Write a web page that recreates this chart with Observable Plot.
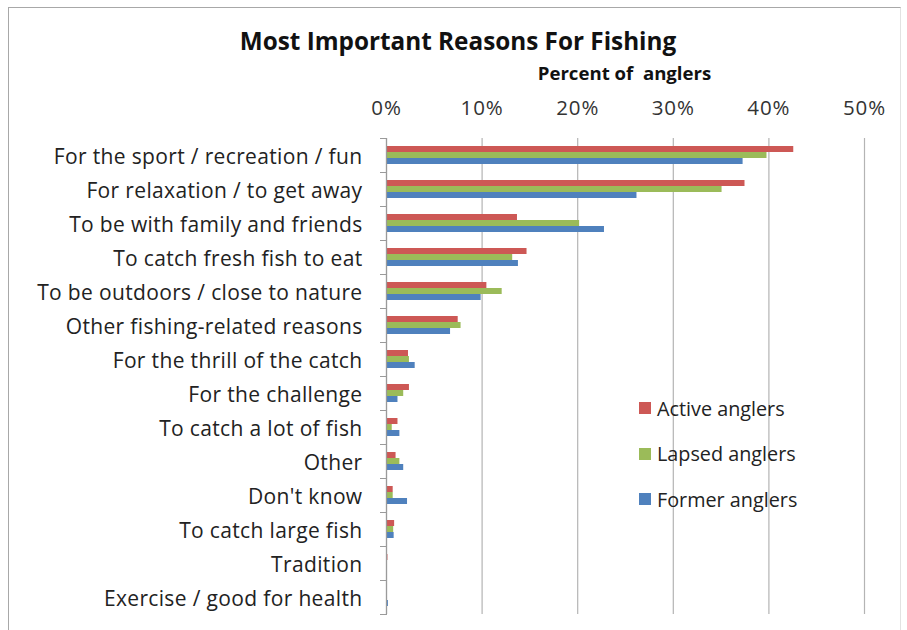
<!DOCTYPE html>
<html>
<head>
<meta charset="utf-8">
<script src="https://cdn.jsdelivr.net/npm/d3@7"></script>
<script src="https://cdn.jsdelivr.net/npm/@observablehq/plot@0.6"></script>
<style>
  html, body { margin: 0; padding: 0; background: #fff; }
  #wrap { position: relative; width: 907px; height: 630px; overflow: hidden; font-family: "Open Sans", Lato, sans-serif; }
  #border { position: absolute; left: 8px; top: 7px; width: 893px; height: 640px; border: 1px solid #a8a8a8; border-right-color: #e2e2e2; box-sizing: border-box; }
  #chart { position: absolute; left: 0; top: 0; }
  #chart g[aria-label="fy-axis tick label"] text { letter-spacing: 0.35px; }
  #chart g[aria-label="x-axis tick label"] text { letter-spacing: 0.9px; }
  .title { position: absolute; left: 0; width: 916px; text-align: center; font-weight: bold; font-size: 24.3px; color: #111; line-height: 1; }
  .sub { position: absolute; left: 0; width: 1249px; text-align: center; font-weight: bold; font-size: 18.6px; color: #111; line-height: 1; }
  #legend { position: absolute; left: 639px; top: 396px; font-size: 19.8px; color: #222; }
  #legend .row { display: flex; align-items: center; height: 24px; margin-bottom: 21.5px; }
  #legend .sw { width: 12px; height: 12px; margin-right: 6px; }
</style>
</head>
<body>
<div id="wrap">
  <div id="border"></div>
  <div id="chart"></div>
  <div class="title" style="top:29px">Most Important Reasons For Fishing</div>
  <div class="sub" style="top:64px">Percent of&nbsp; anglers</div>
  <div id="legend"></div>
</div>
<script>
const categories = [
  "For the sport / recreation / fun",
  "For relaxation / to get away",
  "To be with family and friends",
  "To catch fresh fish to eat",
  "To be outdoors / close to nature",
  "Other fishing-related reasons",
  "For the thrill of the catch",
  "For the challenge",
  "To catch a lot of fish",
  "Other",
  "Don't know",
  "To catch large fish",
  "Tradition",
  "Exercise / good for health"
];
const series = ["Active anglers", "Lapsed anglers", "Former anglers"];
const active = [42.6, 37.5, 13.7, 14.7, 10.5, 7.5, 2.3, 2.4, 1.2, 1.0, 0.7, 0.85, 0.15, 0.05];
const lapsed = [39.8, 35.1, 20.2, 13.2, 12.1, 7.8, 2.4, 1.8, 0.6, 1.4, 0.7, 0.75, 0.05, 0.1];
const former = [37.3, 26.2, 22.8, 13.8, 9.9, 6.7, 3.0, 1.2, 1.4, 1.8, 2.2, 0.8, 0.1, 0.2];
const xTicks = [0, 10, 20, 30, 40, 50];
const colors = ["#CD5855", "#9BBB59", "#4F81BD"];

const valuesBySeries = [active, lapsed, former];
const data = [];
categories.forEach((c, i) => {
  series.forEach((s, j) => data.push({category: c, series: s, value: valuesBySeries[j][i]}));
});

const W = 907, H = 630, mL = 386, mR = 43, mT = 138, mB = 16;
const plot = Plot.plot({
  width: W,
  height: H,
  marginLeft: mL,
  marginRight: mR,
  marginTop: mT,
  marginBottom: mB,
  style: {fontFamily: "'Open Sans', Lato, sans-serif", background: "transparent", overflow: "visible"},
  x: {domain: [0, 50], axis: null},
  y: {domain: series, paddingInner: 0, paddingOuter: 0.93, axis: null},
  fy: {domain: categories, padding: 0, axis: null},
  color: {domain: series, range: colors},
  marks: [
    Plot.gridX(xTicks, {stroke: "#b4b4b4", strokeOpacity: 1, strokeWidth: 1.2}),
    Plot.barX(data, {x: "value", y: "series", fy: "category", fill: "series"}),
    Plot.ruleX([0], {stroke: "#9a9a9a", strokeWidth: 1.2}),
    Plot.frame({anchor: "top", stroke: "#9a9a9a", insetLeft: -6, insetRight: W - mL - mR}),
    Plot.frame({anchor: "bottom", stroke: "#9a9a9a", insetLeft: -6, insetRight: W - mL - mR}),
    Plot.axisX({anchor: "top", ticks: xTicks, tickFormat: d => d + "%", tickSize: 0, tickPadding: 24, fontSize: 20.5, fill: "#333", label: null}),
    Plot.axisFy({anchor: "left", tickSize: 0, tickPadding: 24, fontSize: 21, dy: 1.5, fill: "#222", label: null})
  ]
});
document.getElementById("chart").appendChild(plot);

const legend = document.getElementById("legend");
series.forEach((s, i) => {
  const row = document.createElement("div");
  row.className = "row";
  const sw = document.createElement("div");
  sw.className = "sw";
  sw.style.background = colors[i];
  const t = document.createElement("span");
  t.textContent = s;
  row.appendChild(sw);
  row.appendChild(t);
  legend.appendChild(row);
});
</script>
</body>
</html>
